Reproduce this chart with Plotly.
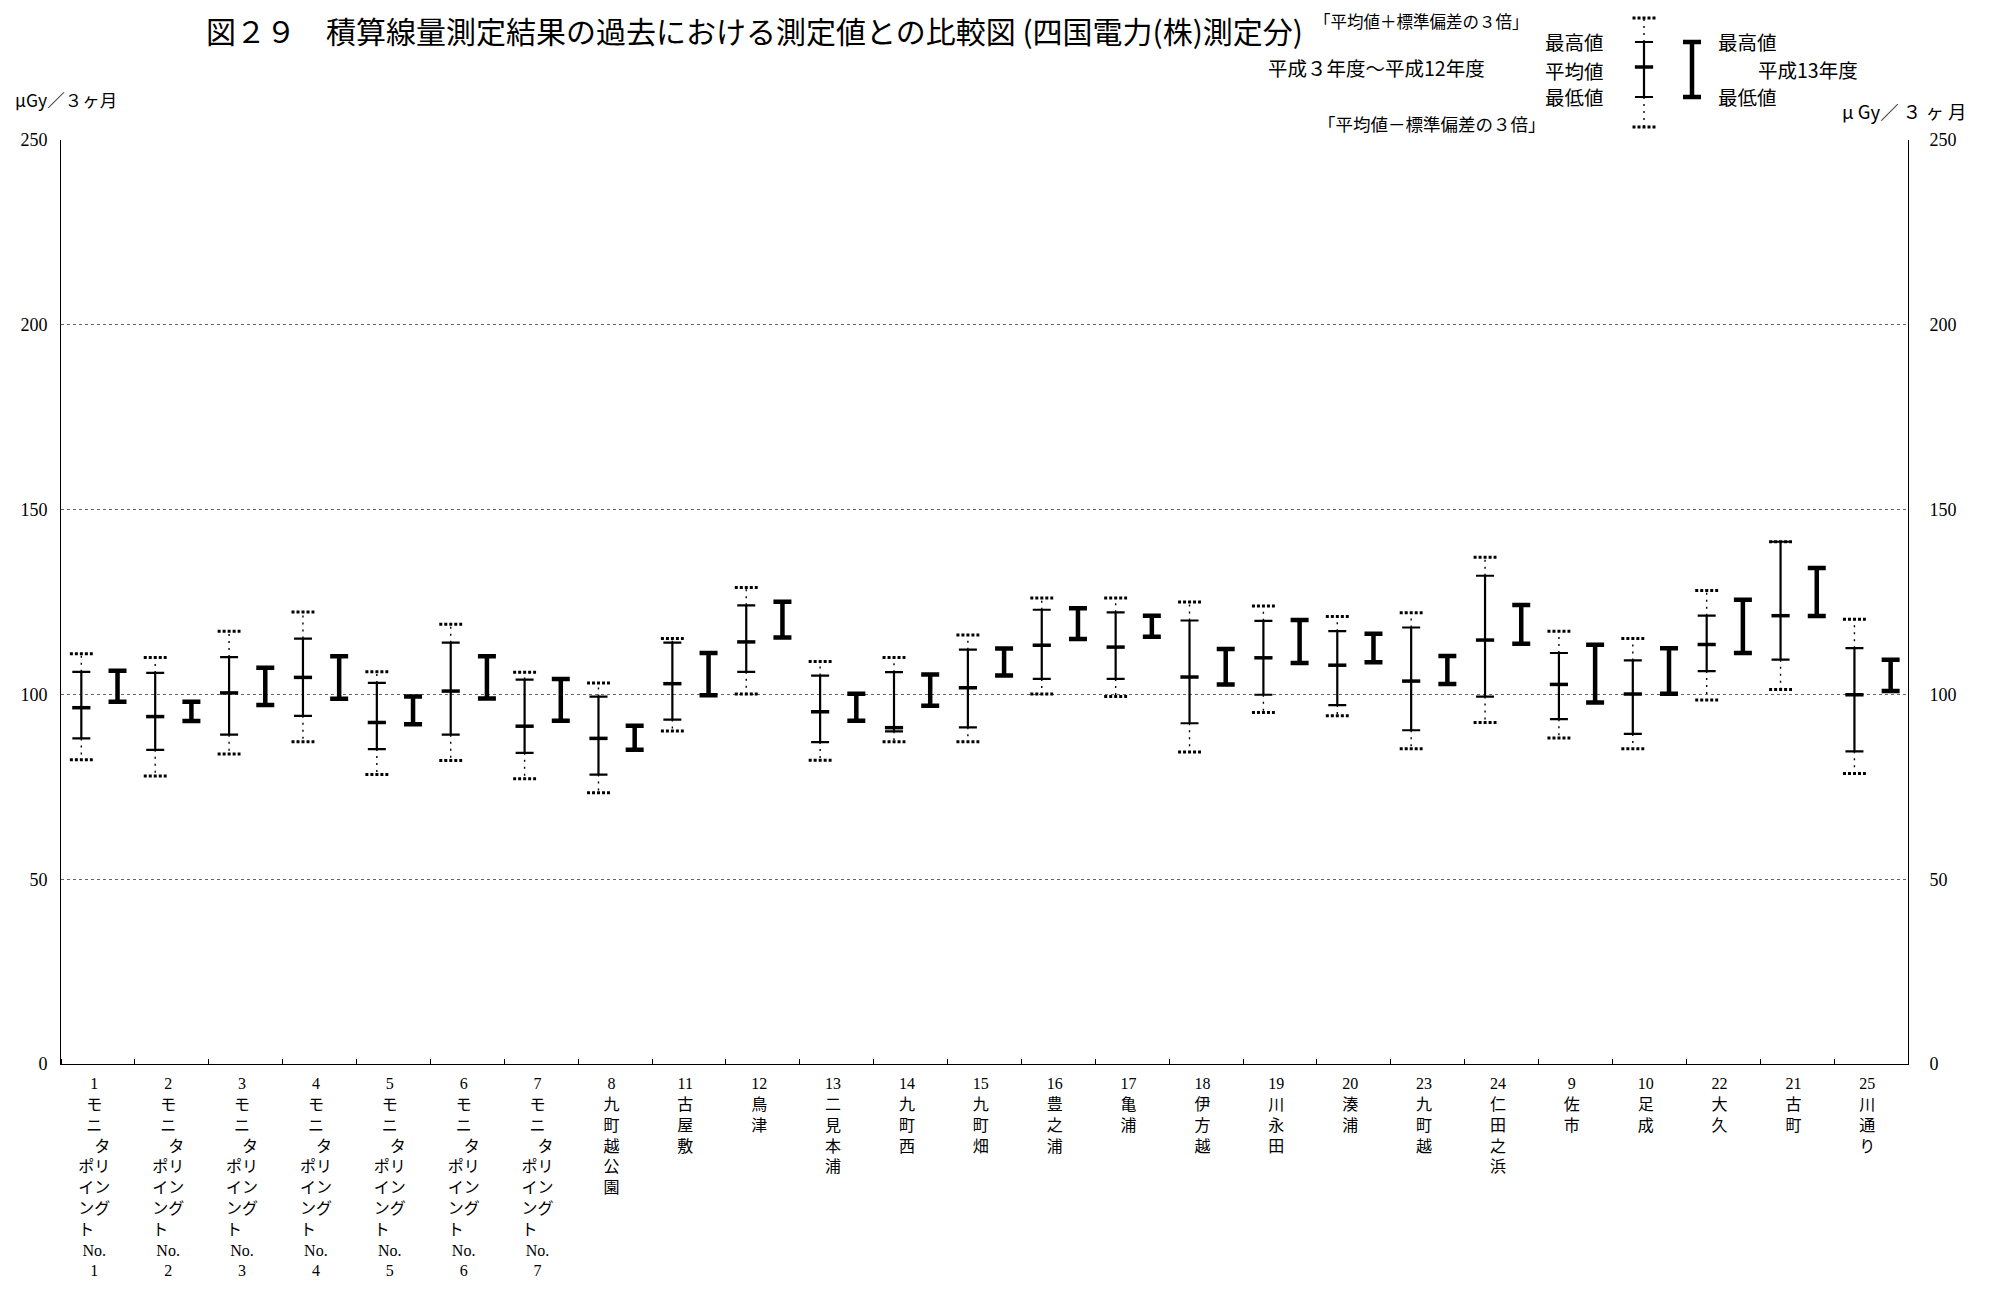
"""積算線量測定結果の過去における測定値との比較図 (四国電力(株)測定分)."""

import plotly.graph_objects as go

# station numbers / names in plotting order
STATION_NO = ["1", "2", "3", "4", "5", "6", "7", "8", "11", "12", "13", "14", "15",
              "16", "17", "18", "19", "20", "23", "24", "9", "10", "22", "21", "25"]
STATION_NAME = ["モニタリングポイントNo.1", "モニタリングポイントNo.2", "モニタリングポイントNo.3",
                "モニタリングポイントNo.4", "モニタリングポイントNo.5", "モニタリングポイントNo.6",
                "モニタリングポイントNo.7", "九町越公園", "古屋敷", "鳥津", "二見本浦", "九町西",
                "九町畑", "豊之浦", "亀浦", "伊方越", "川永田", "湊浦", "九町越", "仁田之浜",
                "佐市", "足成", "大久", "古町", "川通り"]

# 平成3年度～平成12年度 (μGy/3ヶ月)
HIST_PLUS3 = [111.0, 110.0, 117.1, 122.3, 106.1, 119.0, 106.0, 103.1, 115.1, 128.9, 108.9, 110.0, 116.1,
              126.1, 126.1, 125.0, 123.9, 121.1, 122.1, 137.1, 117.1, 115.1, 128.1, 141.3, 120.3]
HIST_MAX = [106.1, 105.8, 110.1, 115.1, 103.1, 114.0, 104.0, 99.4, 114.0, 124.1, 105.1, 106.0, 112.1,
            122.9, 122.2, 120.0, 119.9, 117.1, 118.1, 132.1, 111.2, 109.2, 121.3, 141.3, 112.5]
HIST_MEAN = [96.4, 94.0, 100.4, 104.6, 92.4, 100.9, 91.4, 88.1, 102.9, 114.2, 95.3, 91.0, 101.8,
             113.3, 112.8, 104.7, 109.9, 107.9, 103.6, 114.7, 102.7, 100.1, 113.5, 121.3, 99.9]
HIST_MIN = [88.1, 85.0, 89.1, 94.2, 85.2, 89.1, 84.2, 78.3, 93.2, 106.1, 87.1, 90.0, 91.1,
            104.2, 104.2, 92.2, 99.9, 97.1, 90.3, 99.4, 93.3, 89.3, 106.3, 109.4, 84.6]
HIST_MINUS3 = [82.3, 77.9, 83.9, 87.2, 78.3, 82.1, 77.2, 73.4, 90.1, 100.1, 82.2, 87.2, 87.2,
               100.1, 99.4, 84.4, 95.1, 94.2, 85.3, 92.4, 88.2, 85.3, 98.5, 101.3, 78.6]

# 平成13年度
NEW_MAX = [106.4, 98.0, 107.2, 110.3, 99.4, 110.3, 104.2, 91.5, 111.2, 125.1, 100.2, 105.4, 112.4,
           123.3, 121.3, 112.3, 120.1, 116.4, 110.4, 124.2, 113.4, 112.5, 125.6, 134.2, 109.4]
NEW_MIN = [98.0, 92.8, 97.1, 98.8, 91.9, 98.9, 92.9, 85.0, 99.8, 115.4, 92.9, 96.9, 105.1,
           115.0, 115.6, 102.7, 108.5, 108.7, 102.8, 113.7, 97.8, 100.2, 111.2, 121.2, 100.9]

Y_TICKS = [0, 50, 100, 150, 200, 250]

# legend key sample (own small axes, units are arbitrary)
KEY_HIST = {"plus3": 117, "max": 93, "mean": 68, "min": 38, "minus3": 8}
KEY_NEW = {"max": 93, "min": 38}

OFF = 8  # page body margin
W, H = 1995 - 2 * OFF, 1298 - 2 * OFF
L, R, T, B = 61, 1908, 13, 1064  # plot box in screen px (top = paper top)
FONT = "Liberation Serif, Noto Sans CJK JP"
JP = "Noto Sans CJK JP, Liberation Serif"


def px(x, y):
    return (x - L) / (R - L), (B - y) / (B - T)


def vertical(no, name):
    if name.startswith("モニタリング"):
        rows = [no, "モ", "ニ", "\u3000タ", "ポリ", "イン", "ング", "ト\u3000", "No.", name[-1]]
    else:
        rows = [no] + list(name)
    return "<br>".join(rows)


def add_group(fig, xh, xn, plus3, mx, mean, mn, minus3, nmax, nmin, half, xa, ya):
    ax = {"xaxis": xa, "yaxis": ya, "showlegend": False, "hoverinfo": "skip"}
    # dashed extension to mean ± 3σ
    xs, ys = [], []
    for x, a, b, c, d in zip(xh, mx, plus3, mn, minus3):
        xs += [x, x, None, x, x, None]
        ys += [a, b, None, c, d, None]
    fig.add_trace(go.Scatter(x=xs, y=ys, mode="lines",
                             line={"color": "black", "width": 1.4, "dash": "2px,5px"}, **ax))
    # dotted caps at mean ± 3σ
    xs, ys = [], []
    for x, b, d in zip(xh, plus3, minus3):
        xs += [x - half, x + half, None, x - half, x + half, None]
        ys += [b, b, None, d, d, None]
    fig.add_trace(go.Scatter(x=xs, y=ys, mode="lines",
                             line={"color": "black", "width": 3, "dash": "3px,2px"}, **ax))
    # historic max-min
    fig.add_trace(go.Scatter(
        x=xh, y=[(a + c) / 2 for a, c in zip(mx, mn)], mode="markers",
        marker={"opacity": 0},
        error_y={"type": "data", "array": [(a - c) / 2 for a, c in zip(mx, mn)],
                 "color": "black", "thickness": 2.2, "width": 9},
        **ax))
    # historic mean
    fig.add_trace(go.Scatter(
        x=xh, y=mean, mode="markers",
        marker={"symbol": "line-ew", "size": 13, "line": {"color": "black", "width": 3.5}},
        **ax))
    # 平成13年度 max-min
    fig.add_trace(go.Scatter(
        x=xn, y=[(a + c) / 2 for a, c in zip(nmax, nmin)], mode="markers",
        marker={"opacity": 0},
        error_y={"type": "data", "array": [(a - c) / 2 for a, c in zip(nmax, nmin)],
                 "color": "black", "thickness": 4.5, "width": 9},
        **ax))


fig = go.Figure()
n = len(STATION_NO)
pos = list(range(n))
add_group(fig, [p - 0.225 for p in pos], [p + 0.265 for p in pos],
          HIST_PLUS3, HIST_MAX, HIST_MEAN, HIST_MIN, HIST_MINUS3, NEW_MAX, NEW_MIN,
          0.155, "x", "y")
add_group(fig, [24], [72],
          [KEY_HIST["plus3"]], [KEY_HIST["max"]], [KEY_HIST["mean"]], [KEY_HIST["min"]],
          [KEY_HIST["minus3"]], [KEY_NEW["max"]], [KEY_NEW["min"]], 11.5, "x3", "y3")
# anchor for the right-hand axis
fig.add_trace(go.Scatter(x=[0, 0], y=[0, 250], mode="markers", marker={"opacity": 0},
                         yaxis="y2", showlegend=False, hoverinfo="skip"))

ydom_top = px(0, 140)[1]
yaxis_common = {
    "range": [0, 250], "tickvals": Y_TICKS, "showline": True, "linecolor": "black",
    "linewidth": 1, "ticks": "", "tickfont": {"family": FONT, "size": 18, "color": "black"},
    "zeroline": False, "fixedrange": True, "automargin": False,
}

key_x0, key_y0 = px(1620, 135)
key_x1, key_y1 = px(1720, 13)

fig.update_layout(
    width=W, height=H,
    margin={"l": L - OFF, "r": W - (R - OFF), "t": T - OFF, "b": H - (B - OFF), "pad": 0,
            "autoexpand": False},
    paper_bgcolor="white", plot_bgcolor="white",
    showlegend=False,
    font={"family": FONT, "color": "black"},
    xaxis={
        "domain": [0, 1], "range": [-0.5, n - 0.5], "tickvals": [p - 0.05 for p in pos],
        "ticktext": [vertical(a, b) for a, b in zip(STATION_NO, STATION_NAME)],
        "tickfont": {"family": FONT, "size": 16, "color": "black"},
        "showline": True, "linecolor": "black", "linewidth": 1, "ticks": "",
        "ticklabelstandoff": 5,
        "showgrid": False, "zeroline": False, "tickangle": 0, "automargin": False,
        "minor": {"tickmode": "array", "tickvals": [p - 0.5 for p in range(n + 1)],
                  "ticks": "inside", "ticklen": 5, "tickcolor": "black", "showgrid": False},
    },
    yaxis={**yaxis_common, "domain": [0, ydom_top], "showgrid": True, "ticklabelstandoff": 9,
           "gridcolor": "#666", "griddash": "dot", "gridwidth": 1},
    yaxis2={**yaxis_common, "overlaying": "y", "side": "right", "showgrid": False,
            "ticklabelstandoff": 17},
    xaxis3={"domain": [key_x0, key_x1], "range": [0, 100], "anchor": "y3", "visible": False},
    yaxis3={"domain": [key_y0, key_y1], "range": [0, 122], "anchor": "x3", "visible": False},
)

texts = [
    ("図２９　積算線量測定結果の過去における測定値との比較図 (四国電力(株)測定分)", 204, 30, "left", 30),
    ("μGy／３ヶ月", 13, 100, "left", 17.5),
    ("μ Gy／ ３ ヶ 月", 1840, 111, "left", 18.5),
    ("「平均値＋標準偏差の３倍」", 1312, 21, "left", 16.5),
    ("「平均値－標準偏差の３倍」", 1316, 123, "left", 17.5),
    ("平成３年度～平成12年度", 1266, 67, "left", 19.5),
    ("最高値", 1606, 42, "right", 19.5),
    ("平均値", 1606, 70, "right", 19.5),
    ("最低値", 1606, 97, "right", 19.5),
    ("最高値", 1716, 42, "left", 19.5),
    ("平成13年度", 1756, 69, "left", 19.5),
    ("最低値", 1716, 97, "left", 19.5),
]
for text, x, y, anchor, size in texts:
    ax_, ay_ = px(x, y)
    fig.add_annotation(text=text, x=ax_, y=ay_, xref="paper", yref="paper",
                       xanchor=anchor, yanchor="middle", showarrow=False,
                       font={"family": JP, "size": size, "color": "black"})

fig.write_html("out.html")
